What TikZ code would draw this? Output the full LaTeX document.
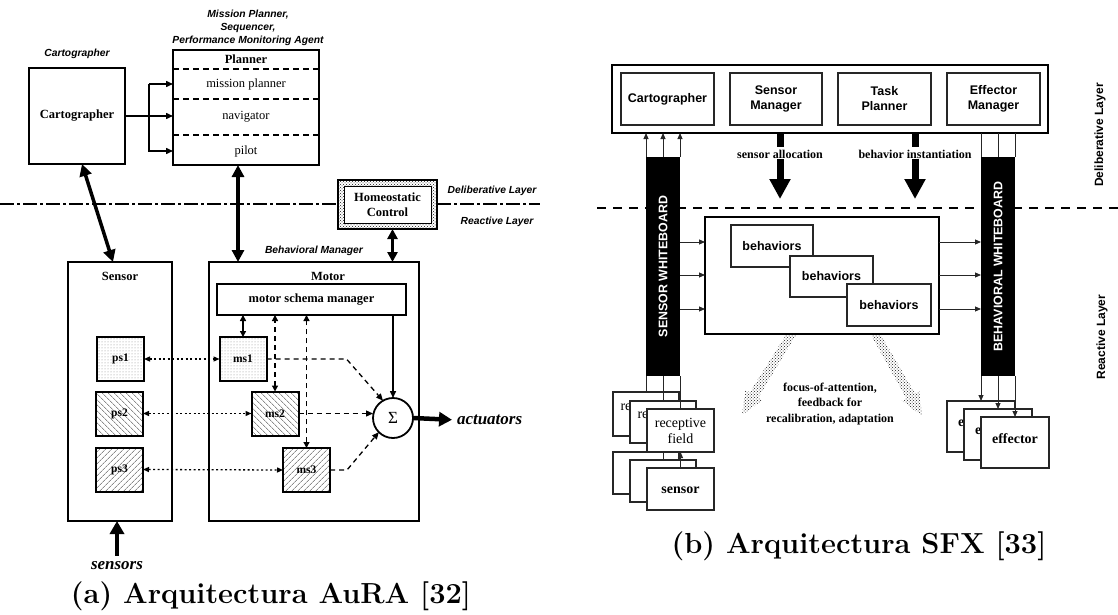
\documentclass[tikz,border=0pt]{standalone}
\usepackage{fontspec}
\newfontfamily\tms{Liberation Serif}
\newfontfamily\hlv{Liberation Sans}
\usetikzlibrary{arrows.meta,patterns,patterns.meta,calc}
\newcommand\fsz[2]{\fontsize{#1pt}{#2pt}\selectfont}
\begin{document}
\begin{tikzpicture}[x=1pt,y=-1pt,
  every node/.style={inner sep=0pt, outer sep=0pt},
  thickbox/.style={draw, line width=2pt, fill=white},
  thinbox/.style={draw=black!85, line width=1.1pt, fill=white},
  stxt/.style={font=\tms\bfseries\fsz{12.5}{15}},
  srm/.style={font=\tms\fsz{12.5}{15}},
  tag/.style={font=\hlv\bfseries\itshape\fsz{10.3}{13}},
  hb/.style={font=\hlv\bfseries\fsz{12.5}{15}},
  schema/.style={draw, line width=2pt, minimum width=47pt, minimum height=44pt, font=\tms\bfseries\fsz{11.5}{13}},
  dotfill/.style={pattern=dots, pattern color=black!45},
  hatchA/.style={pattern={Lines[angle=-45,distance=4pt,line width=0.6pt]}, pattern color=black!70},
  hatchB/.style={pattern={Lines[angle=45,distance=4pt,line width=0.6pt]}, pattern color=black!70},
  divider/.style={line width=2pt, dash pattern=on 6pt off 4pt},
  layerline/.style={line width=1.2pt, dash pattern=on 14pt off 3pt on 3pt off 3pt},
  layerdash/.style={line width=1.6pt, dash pattern=on 9pt off 7pt},
  bigdbl/.style={line width=3.5pt, {Triangle[length=12pt,width=12pt]}-{Triangle[length=12pt,width=12pt]}},
  meddbl/.style={line width=3pt, {Triangle[length=10pt,width=10pt]}-{Triangle[length=10pt,width=10pt]}},
  bigarr/.style={line width=4.5pt, -{Triangle[length=13pt,width=14pt]}},
  midarr/.style={line width=1.5pt, -{Triangle[length=7pt,width=6pt]}},
  middbl/.style={line width=1.5pt, {Triangle[length=6pt,width=6pt]}-{Triangle[length=6pt,width=6pt]}},
  dotarr/.style={line width=1.3pt, dash pattern=on 2pt off 2.5pt, {Triangle[length=6pt,width=5pt]}-{Triangle[length=6pt,width=5pt]}},
  dasharr/.style={line width=1.3pt, dash pattern=on 5pt off 4pt, -{Triangle[length=7pt,width=6pt]}},
  dashdbl/.style={line width=1.3pt, dash pattern=on 5pt off 4pt, {Triangle[length=6pt,width=6pt]}-{Triangle[length=6pt,width=6pt]}},
  thinarr/.style={line width=1pt, draw=black!85, -{Triangle[length=6pt,width=5pt]}},
  thinln/.style={line width=1pt, draw=black!85},
  fatarr/.style={line width=7pt, -{Triangle[length=20pt,width=20pt]}},
  feedband/.style={pattern=crosshatch dots, pattern color=black!90},
  wbtext/.style={rotate=90, text=white, font=\hlv\bfseries\fsz{12.4}{15}},
  rftext/.style={font=\tms\fsz{14}{16}},
  eftext/.style={font=\tms\bfseries\fsz{14}{16}},
  caption/.style={font=\bfseries\fsz{29}{32}, anchor=base}
]
\useasboundingbox (0,0) rectangle (1118,615);

%% ---------------- AuRA ----------------
\node[thickbox, stxt, minimum width=96pt, minimum height=96pt] (carto) at (77,116) {Cartographer};
\node[tag] (cartoTag) at (77,54) {Cartographer};

\node[thickbox, minimum width=146pt, minimum height=115pt] (planner) at (246,107.5) {};
\node[stxt] (plannerTitle) at (246,59) {Planner};
\foreach \y in {69,99,135}
  \draw[divider] (planner.west |- 0,\y) -- (planner.east |- 0,\y);
\node[srm] (mp) at (246,84) {mission planner};
\node[srm] (nav) at (246,117) {navigator};
\node[srm] (pilot) at (246,151) {pilot};
\node[tag, align=center] (plannerTag) at (248,28) {Mission Planner,\\Sequencer,\\Performance Monitoring Agent};

\coordinate (split) at (149,116);
\draw[midarr] (carto.east) -- (planner.west |- carto.east);
\draw[midarr] (split |- mp) -- (planner.west |- mp);
\draw[midarr] (split |- mp) -- (split |- pilot) -- (planner.west |- pilot);

% homeostatic control on the layer boundary
\node[draw, line width=2pt, feedband, minimum width=99pt, minimum height=49pt] (homeo) at (387.5,204.5) {};
\node[fill=white, draw, line width=0.6pt, stxt, align=center, minimum width=87pt, minimum height=37pt] (homeoIn) at (homeo) {Homeostatic\\Control};
\draw[layerline] (0,204) -- (homeo.west |- 0,204);
\draw[layerline] (homeo.east |- 0,204) -- (540,204);
\node[tag] (delibL) at (492,191) {Deliberative Layer};
\node[tag] (reactL) at (497,222) {Reactive Layer};

\node[thickbox, minimum width=104pt, minimum height=259pt] (sensor) at (120,391.5) {};
\node[stxt] (sensorTitle) at (120,276) {Sensor};
\node[thickbox, minimum width=210pt, minimum height=259pt] (motor) at (314,391.5) {};
\node[stxt] (motorTitle) at (328,276) {Motor};
\node[tag] (bmTag) at (314,251) {Behavioral Manager};
\node[thickbox, stxt, minimum width=189pt, minimum height=31pt] (msm) at (311.5,299.5) {motor schema manager};

\node[schema, dotfill] (ps1) at (120.5,359) {ps1};
\node[schema, hatchA] (ps2) at (119.5,413.5) {ps2};
\node[schema, hatchB] (ps3) at (119.5,469.5) {ps3};
\node[schema, dotfill] (ms1) at (243,359) {ms1};
\node[schema, hatchA] (ms2) at (275,413.5) {ms2};
\node[schema, hatchB] (ms3) at (306.5,470) {ms3};
\node[draw, circle, line width=1.8pt, minimum size=40pt, font=\tms\fsz{17}{19}] (sum) at (393,418) {Σ};

\draw[dotarr] (ps1.east) -- (ms1.west);
\draw[dotarr] (ps2.east) -- (ms2.west);
\draw[dotarr] (ps3.east) -- (ms3.west);
\draw[middbl] (ms1.north) -- (ms1.north |- msm.south);
\draw[dashdbl] (ms2.north) -- (ms2.north |- msm.south);
\draw[dashdbl] (ms3.north) -- (ms3.north |- msm.south);
\draw[midarr] (msm.south -| sum.north) -- (sum.north);
\draw[dasharr] (ms1.east) -- ++(80,0) -- (sum.120);
\draw[dasharr] (ms2.east) -- (ms2.east -| sum.west);
\draw[dasharr] (ms3.east) -- ++(17,0) -- (sum.225);

\node[font=\tms\bfseries\itshape\fsz{17}{20}, anchor=west] (act) at (457,420) {actuators};
\draw[bigarr, shorten >=5pt] (sum.east) -- (act.west);
\node[font=\tms\bfseries\itshape\fsz{17}{20}] (sensLbl) at (117,566) {sensors};
\coordinate (sensTail) at ($(sensLbl.north)+(0,-6)$);
\draw[bigarr] (sensTail) -- (sensTail |- sensor.south);

\coordinate (cartoFoot) at ($(carto.south)+(5,0)$);
\coordinate (sensorHead) at ($(sensor.north)+(-7,0)$);
\draw[bigdbl] (cartoFoot) -- (sensorHead);
\coordinate (pmTop) at ($(planner.south)+(-8,0)$);
\draw[bigdbl] (pmTop) -- (pmTop |- motor.north);
\coordinate (hmTop) at ($(homeo.south)+(5,0)$);
\draw[meddbl] (hmTop) -- (hmTop |- motor.north);

\node[caption] (capA) at (271,603) {(a) Arquitectura AuRA [32]};

%% ---------------- SFX ----------------
\draw[layerdash] (597,208) -- (1118,208);

\node[draw, line width=2pt, fill=white, minimum width=436pt, minimum height=68pt] (delib) at (830,99) {};
\node[thinbox, hb, minimum width=93pt, minimum height=52pt] (carto2) at (667.5,99) {Cartographer};
\node[thinbox, hb, align=center, minimum width=92pt, minimum height=52pt] (sensman) at (776,99) {Sensor\\Manager};
\node[thinbox, hb, align=center, minimum width=93pt, minimum height=52pt] (taskpl) at (884.5,99) {Task\\Planner};
\node[thinbox, hb, align=center, minimum width=93pt, minimum height=52pt] (effman) at (993.5,99) {Effector\\Manager};

\node[fill=black, minimum width=34pt, minimum height=219pt] (swb) at (663,266.5) {};
\node[wbtext] (swbLbl) at (swb) {SENSOR WHITEBOARD};
\node[fill=black, minimum width=34pt, minimum height=219pt] (bwb) at (998,266.5) {};
\node[wbtext] (bwbLbl) at (bwb) {BEHAVIORAL WHITEBOARD};

\coordinate (sw1) at (swb.north west);
\coordinate (sw2) at (swb.north);
\coordinate (sw3) at (swb.north east);
\foreach \c in {sw1,sw2,sw3} \draw[thinarr] (\c) -- (\c |- delib.south);
\coordinate (bw1) at (bwb.north west);
\coordinate (bw2) at (bwb.north);
\coordinate (bw3) at (bwb.north east);
\foreach \c in {bw1,bw2,bw3} \draw[thinln] (\c) -- (\c |- delib.south);

\node[font=\tms\bfseries\fsz{12}{14}] (salloc) at (780,154) {sensor allocation};
\draw[line width=7pt, shorten >=3pt] (salloc.north |- delib.south) -- (salloc.north);
\coordinate (sallocTip) at (780,199);
\draw[fatarr, shorten <=1pt] (salloc.south) -- (sallocTip);
\node[font=\tms\bfseries\fsz{12}{14}] (binst) at (915,154) {behavior instantiation};
\draw[line width=7pt, shorten >=3pt] (binst.north |- delib.south) -- (binst.north);
\coordinate (binstTip) at (915,199);
\draw[fatarr, shorten <=1pt] (binst.south) -- (binstTip);

\node[draw, line width=1.6pt, fill=white, minimum width=234pt, minimum height=117pt] (beh) at (822,275.5) {};
\node[thinbox, hb, minimum width=82pt, minimum height=42pt] (b1) at (772,246) {behaviors};
\node[thinbox, hb, minimum width=83pt, minimum height=41pt] (b2) at (831.5,276.5) {behaviors};
\node[thinbox, hb, minimum width=84pt, minimum height=42pt] (b3) at (889,305) {behaviors};
\foreach \y in {242,275,309} {
  \draw[thinarr] (swb.east |- 0,\y) -- (beh.west |- 0,\y);
  \draw[thinarr] (beh.east |- 0,\y) -- (bwb.west |- 0,\y);
}

% feedback bands
\fill[feedband] (786,335) -- (796,335) -- (758.3,397.6) -- (762.6,400.2) -- (742,415) -- (745.4,389.8) -- (749.7,392.4) -- cycle;
\fill[feedband] (871,335) -- (881,335) -- (914.9,393.3) -- (919.3,390.9) -- (922,416) -- (901.9,400.7) -- (906.3,398.3) -- cycle;
\node[font=\tms\bfseries\fsz{12}{15.5}, align=center] (focus) at (830,404) {focus-of-attention,\\feedback for\\recalibration, adaptation};

% sensor / receptive field stacks (back copies show only the start of their label)
\node[thinbox, minimum width=66pt, minimum height=42pt] (s1) at (646,473) {};
\node[thinbox, minimum width=66pt, minimum height=42pt] (s2) at (663,481) {};
\node[thinbox, minimum width=67pt, minimum height=42pt] (s3) at (680.5,489) {};
\node[eftext, anchor=base] (s3Lbl) at (680.5,493) {sensor};
\node[thinbox, minimum width=66pt, minimum height=44pt] (rf1) at (646,414) {};
\node[rftext, anchor=base west] (rf1Lbl) at (620.5,410) {re};
\node[thinbox, minimum width=66pt, minimum height=42pt] (rf2) at (663,422) {};
\node[rftext, anchor=base west] (rf2Lbl) at (637.5,418) {re};
\draw[thinarr] (s2.north) -- (rf2.south);
\node[thinbox, rftext, align=center, minimum width=67pt, minimum height=43pt] (rf3) at (680.5,430.5) {receptive\\field};
\draw[thinarr] (s3.north) -- (rf3.south);
\draw[thinln] (swb.south west) -- (swb.south west |- rf1.north);
\draw[thinln] (swb.south) -- (swb.south |- rf2.north);
\draw[thinln] (swb.south east) -- (swb.south east |- rf3.north);

% effector stack
\node[thinbox, minimum width=68pt, minimum height=51pt] (e1) at (981,426.5) {};
\node[eftext, anchor=base west] (e1Lbl) at (958,426) {e};
\node[thinbox, minimum width=68pt, minimum height=51pt] (e2) at (998,434.5) {};
\node[eftext, anchor=base west] (e2Lbl) at (975,434) {e};
\node[thinbox, minimum width=68pt, minimum height=51pt] (e3) at (1015,442.5) {};
\node[eftext, anchor=base] (e3Lbl) at (1015,443) {effector};
\draw[thinarr] (bwb.south west) -- (bwb.south west |- e1.north);
\draw[thinarr] (bwb.south) -- (bwb.south |- e2.north);
\draw[thinarr] (bwb.south east) -- (bwb.south east |- e3.north);

\node[font=\hlv\bfseries\fsz{12}{14}, rotate=90] (delibR) at (1100,135) {Deliberative Layer};
\node[font=\hlv\bfseries\fsz{12}{14}, rotate=90] (reactR) at (1102,337) {Reactive Layer};

\node[caption] (capB) at (859,553) {(b) Arquitectura SFX [33]};
\end{tikzpicture}
\end{document}
